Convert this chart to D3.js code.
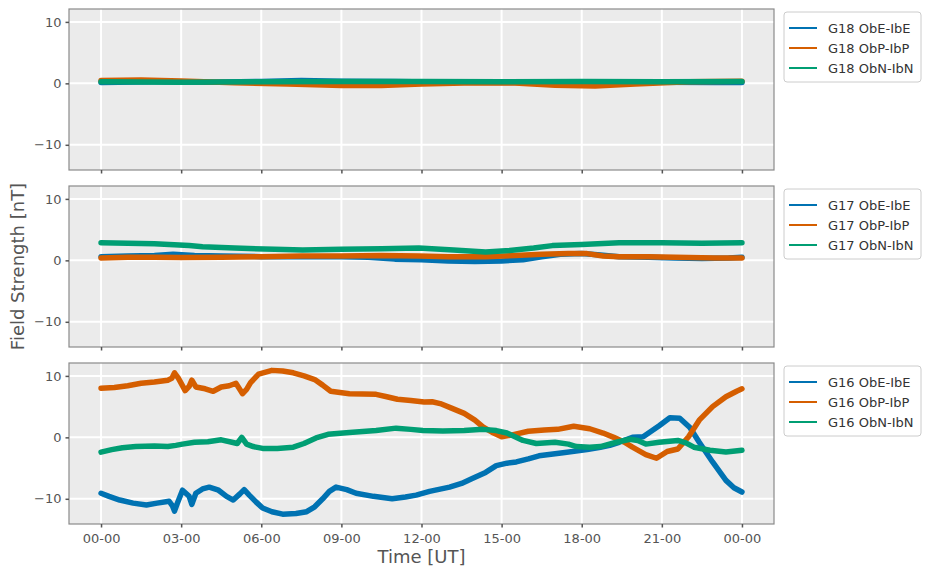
<!DOCTYPE html>
<html>
<head>
<meta charset="utf-8">
<script src="https://cdn.jsdelivr.net/npm/d3@7"></script>
<style>
  body { margin: 0; background: #fff; }
  svg { font-family: "DejaVu Sans", sans-serif; }
</style>
</head>
<body>
<svg id="chart" width="925" height="569"></svg>
<script>
// x axis ticks (hours since start) and their labels
var tickHours = [0, 3, 6, 9, 12, 15, 18, 21, 24];
var tickLabels = ["00-00", "03-00", "06-00", "09-00", "12-00", "15-00", "18-00", "21-00", "00-00"];
var yTicks = [-10, 0, 10];

var satellites = ["G18", "G17", "G16"];
var components = ["ObE-IbE", "ObP-IbP", "ObN-IbN"];
var colors = ["#0072B2", "#D55E00", "#009E73"];

// series: [hour, nT]
var g18E = [[0,0.15],[2,0.25],[4,0.2],[6,0.3],[7.5,0.45],[9,0.35],[11,0.3],[13,0.2],[15,0.15],[17,0.2],[19,0.15],[21,0.2],[23,0.15],[24,0.15]];
var g18P = [[0,0.45],[1.5,0.55],[3,0.4],[5,0.1],[7,-0.1],[9,-0.35],[10.5,-0.35],[12,-0.1],[14,0.1],[15.5,0.05],[17,-0.3],[18.5,-0.45],[20,-0.1],[22,0.25],[24,0.35]];
var g18N = [[0,0.25],[3,0.2],[6,0.25],[9,0.3],[12,0.3],[15,0.25],[18,0.3],[21,0.25],[24,0.3]];

var g17E = [[0,0.6],[1,0.7],[2,0.8],[2.7,1.0],[3.5,0.8],[4.5,0.7],[6,0.6],[7.5,0.6],[9,0.6],[10,0.5],[11,0.2],[12,0.1],[13,-0.1],[14,-0.2],[15,-0.1],[15.8,0.1],[16.5,0.6],[17.2,1.0],[18,1.1],[18.6,0.9],[19.4,0.6],[20.5,0.5],[21.5,0.4],[22.5,0.3],[23.5,0.4],[24,0.5]];
var g17P = [[0,0.4],[1,0.5],[2,0.5],[3,0.45],[4.5,0.5],[6,0.6],[7.5,0.7],[9,0.7],[10.5,0.8],[11.9,0.7],[13,0.6],[14.4,0.6],[15.5,0.8],[16.5,1.0],[17.5,1.1],[18.2,1.1],[18.8,0.7],[19.4,0.6],[20.5,0.6],[22,0.45],[23,0.4],[24,0.4]];
var g17N = [[0,2.85],[1,2.8],[2,2.7],[2.55,2.6],[3.3,2.4],[3.8,2.2],[5,2.0],[6.5,1.8],[7.55,1.7],[9,1.8],[10.5,1.9],[11.9,2.0],[13.2,1.7],[14.4,1.35],[15.3,1.6],[16.2,2.0],[16.9,2.4],[18,2.6],[19.4,2.85],[21,2.85],[22.5,2.8],[24,2.85]];

var g16E = [[0,-9.1],[0.3,-9.6],[0.7,-10.2],[1.2,-10.7],[1.7,-11.0],[2.1,-10.7],[2.55,-10.4],[2.68,-11.2],[2.75,-12.0],[2.85,-10.8],[3.05,-8.6],[3.3,-9.6],[3.4,-10.9],[3.55,-9.1],[3.8,-8.4],[4.05,-8.1],[4.4,-8.6],[4.7,-9.6],[4.95,-10.2],[5.2,-9.2],[5.36,-8.5],[5.55,-9.4],[5.8,-10.5],[6.05,-11.5],[6.4,-12.1],[6.8,-12.5],[7.3,-12.4],[7.7,-12.1],[8.0,-11.3],[8.3,-10.0],[8.55,-8.8],[8.8,-8.1],[9.2,-8.5],[9.55,-9.1],[10.2,-9.6],[10.9,-10.0],[11.4,-9.7],[11.8,-9.4],[12.3,-8.8],[13.05,-8.1],[13.5,-7.5],[13.9,-6.7],[14.4,-5.7],[14.8,-4.6],[15.2,-4.2],[15.55,-4.0],[16.0,-3.5],[16.4,-3.0],[17.3,-2.5],[18.2,-2.0],[18.7,-1.6],[19.05,-1.3],[19.4,-0.8],[19.9,0.0],[20.3,0.1],[20.6,1.0],[20.9,1.9],[21.3,3.2],[21.67,3.1],[22.05,1.6],[22.4,-0.8],[22.9,-4.0],[23.4,-7.0],[23.7,-8.2],[24,-8.9]];
var g16P = [[0,8.0],[0.5,8.1],[1,8.4],[1.5,8.8],[2,9.0],[2.5,9.3],[2.65,9.6],[2.75,10.5],[2.9,9.6],[3.15,7.6],[3.3,8.3],[3.4,9.3],[3.55,8.2],[3.9,7.9],[4.2,7.5],[4.5,8.2],[4.8,8.4],[5.05,8.8],[5.2,7.8],[5.3,7.1],[5.45,7.8],[5.6,8.9],[5.9,10.3],[6.4,10.9],[6.8,10.8],[7.2,10.5],[7.6,10.0],[8.0,9.4],[8.3,8.5],[8.6,7.5],[9.3,7.1],[10.3,7.0],[10.7,6.6],[11.1,6.2],[11.6,6.0],[12.1,5.75],[12.4,5.8],[12.7,5.5],[13.1,4.8],[13.6,3.9],[14.0,2.8],[14.3,1.7],[14.7,0.7],[15.0,0.1],[15.4,0.4],[16.0,1.0],[16.6,1.2],[17.1,1.3],[17.7,1.8],[18.3,1.4],[18.8,0.7],[19.2,0.0],[19.6,-0.8],[19.9,-1.6],[20.4,-2.8],[20.8,-3.4],[21.2,-2.3],[21.6,-1.9],[22.0,0.1],[22.4,2.8],[22.9,5.0],[23.4,6.6],[23.8,7.5],[24,7.9]];
var g16N = [[0,-2.4],[0.4,-2.0],[0.8,-1.7],[1.3,-1.5],[2,-1.4],[2.5,-1.5],[2.8,-1.3],[3.05,-1.1],[3.5,-0.8],[4.0,-0.7],[4.5,-0.4],[4.9,-0.8],[5.1,-1.0],[5.27,0.0],[5.45,-1.1],[5.7,-1.5],[6.05,-1.8],[6.6,-1.8],[7.2,-1.6],[7.6,-1.0],[8.05,-0.1],[8.5,0.5],[9.3,0.8],[10.3,1.1],[11.05,1.5],[11.6,1.3],[12.05,1.1],[12.8,1.05],[13.6,1.1],[14.3,1.3],[14.8,1.1],[15.2,0.7],[15.5,0.1],[15.8,-0.5],[16.3,-1.0],[17.0,-0.8],[17.5,-1.1],[17.8,-1.5],[18.3,-1.6],[18.7,-1.5],[19.3,-0.8],[19.8,-0.3],[20.1,-0.5],[20.4,-1.1],[20.9,-0.8],[21.6,-0.5],[21.9,-0.9],[22.2,-1.6],[22.8,-2.1],[23.4,-2.4],[24,-2.1]];

var panelSeries = [[g18E, g18P, g18N], [g17E, g17P, g17N], [g16E, g16P, g16N]];

// layout
var margin = {left: 69, right: 151},
    width = 925 - margin.left - margin.right,
    panelHeight = 161,
    panelTops = [9, 186, 363];

var svg = d3.select("#chart");

var x = d3.scaleLinear().domain([-1.2, 25.2]).range([0, width]);
var y = d3.scaleLinear().domain([-14.1, 12.1]).range([panelHeight, 0]);

var line = d3.line()
    .x(function (d) { return x(d[0]); })
    .y(function (d) { return y(d[1]); });

panelSeries.forEach(function (series, p) {
    var g = svg.append("g")
        .attr("transform", "translate(" + margin.left + "," + panelTops[p] + ")");

    // background
    g.append("rect")
        .attr("width", width)
        .attr("height", panelHeight)
        .attr("fill", "#EBEBEB");

    // grid
    g.append("g").selectAll("line.vg")
        .data(tickHours).enter().append("line")
        .attr("x1", function (d) { return x(d); })
        .attr("x2", function (d) { return x(d); })
        .attr("y1", 0).attr("y2", panelHeight)
        .attr("stroke", "#fff").attr("stroke-width", 2);
    g.append("g").selectAll("line.hg")
        .data(yTicks).enter().append("line")
        .attr("y1", function (d) { return y(d); })
        .attr("y2", function (d) { return y(d); })
        .attr("x1", 0).attr("x2", width)
        .attr("stroke", "#fff").attr("stroke-width", 2);

    // lines
    series.forEach(function (s, i) {
        g.append("path")
            .datum(s)
            .attr("fill", "none")
            .attr("stroke", colors[i])
            .attr("stroke-width", 5.5)
            .attr("stroke-linejoin", "round")
            .attr("stroke-linecap", "round")
            .attr("d", line);
    });

    // frame
    g.append("rect")
        .attr("width", width)
        .attr("height", panelHeight)
        .attr("fill", "none")
        .attr("stroke", "#8a8a8a")
        .attr("stroke-width", 1.2);

    // y axis
    var yAxis = g.append("g")
        .call(d3.axisLeft(y).tickValues(yTicks).tickSize(3.5).tickPadding(4)
            .tickFormat(function (d) { return d < 0 ? "\u2212" + Math.abs(d) : d; }));
    yAxis.select(".domain").remove();
    yAxis.selectAll("line").attr("stroke", "#555").attr("stroke-width", 1.5);
    yAxis.selectAll("text").attr("fill", "#555").attr("font-size", 13)
        .attr("font-family", "DejaVu Sans");

    // x axis
    var xAxis = g.append("g")
        .attr("transform", "translate(0," + panelHeight + ")")
        .call(d3.axisBottom(x).tickValues(tickHours).tickSize(3.5).tickPadding(6)
            .tickFormat(function (d, i) { return p === 2 ? tickLabels[i] : ""; }));
    xAxis.select(".domain").remove();
    xAxis.selectAll("line").attr("stroke", "#555").attr("stroke-width", 1.5);
    xAxis.selectAll("text").attr("fill", "#555").attr("font-size", 13)
        .attr("font-family", "DejaVu Sans");

    // legend
    var leg = svg.append("g")
        .attr("transform", "translate(784," + (panelTops[p] + 3) + ")");
    leg.append("rect")
        .attr("width", 137).attr("height", 70).attr("rx", 3)
        .attr("fill", "#fff").attr("stroke", "#cccccc");
    components.forEach(function (c, i) {
        var row = leg.append("g").attr("transform", "translate(0," + (16 + i * 20) + ")");
        row.append("line")
            .attr("x1", 5).attr("x2", 33).attr("y1", 0).attr("y2", 0)
            .attr("stroke", colors[i]).attr("stroke-width", 2);
        row.append("text")
            .attr("x", 44).attr("y", 0).attr("dy", "0.35em")
            .attr("font-size", 13).attr("fill", "#333")
            .text(satellites[p] + " " + c);
    });
});

// axis labels
svg.append("text")
    .attr("x", margin.left + width / 2)
    .attr("y", 563)
    .attr("text-anchor", "middle")
    .attr("font-size", 18)
    .attr("fill", "#555")
    .text("Time [UT]");

svg.append("text")
    .attr("transform", "translate(24," + (panelTops[1] + panelHeight / 2) + ") rotate(-90)")
    .attr("text-anchor", "middle")
    .attr("font-size", 18)
    .attr("fill", "#555")
    .text("Field Strength [nT]");
</script>
</body>
</html>
